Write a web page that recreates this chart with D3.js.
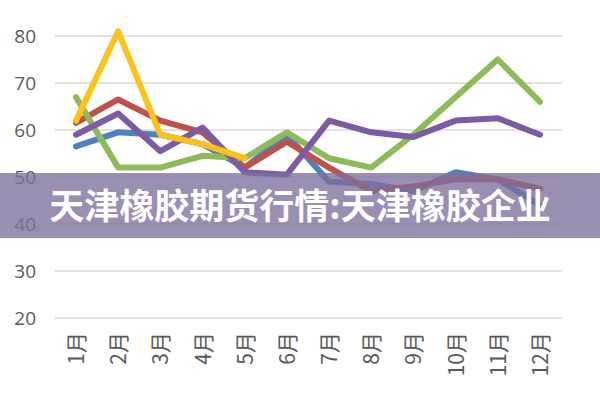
<!DOCTYPE html>
<html><head><meta charset="utf-8">
<script src="https://cdn.jsdelivr.net/npm/d3@7"></script>
<style>body{margin:0;background:#fff}svg{display:block}</style>
</head><body>
<svg id="c" width="600" height="400"></svg>
<script>
const months = ['1月','2月','3月','4月','5月','6月','7月','8月','9月','10月','11月','12月']
const yTicks = [20, 30, 40, 50, 60, 70, 80]
const blue = [56.5, 59.5, 59, 57, 52, 59, 49, 48.5, 47, 51, 49.5, 44]
const red = [61.5, 66.5, 62, 59.5, 52, 57.5, 52, 47, 48, 49.5, 49.5, 47.5]
const green = [67, 52, 52, 54.5, 54, 59.5, 54, 52, 59, 67, 75, 66]
const purple = [59, 63.5, 55.5, 60.5, 51, 50.5, 62, 59.5, 58.5, 62, 62.5, 59]
const yellow = [62, 81, 59, 57, 54]
const title = '天津橡胶期货行情:天津橡胶企业'

const svg = d3.select('#c')
const x = d3.scalePoint().domain(months).range([76, 540])
const y = d3.scaleLinear().domain([20, 80]).range([318, 36])

// grid
svg.append('g').selectAll('line').data(yTicks).join('line')
  .attr('x1', 55).attr('x2', 562)
  .attr('y1', d => y(d)).attr('y2', d => y(d))
  .attr('stroke', '#d9d9d9').attr('stroke-width', 1.5)

svg.append('g').selectAll('text').data(yTicks).join('text')
  .attr('x', 36).attr('y', d => y(d) + 7)
  .attr('text-anchor', 'end')
  .attr('font-family', 'Open Sans, sans-serif').attr('font-size', 19)
  .attr('fill', '#595959').text(d => d)

svg.append('g').selectAll('text').data(months).join('text')
  .attr('transform', d => `translate(${x(d) + 8},332) rotate(-90)`)
  .attr('text-anchor', 'end')
  .attr('font-family', 'Noto Sans CJK SC, sans-serif').attr('font-size', 21)
  .attr('fill', '#595959').text(d => d)

const series = [
  [blue, '#4f81bd'], [red, '#c0504d'], [green, '#8fba5a'], [purple, '#7b5ca3'], [yellow, '#fbc318']
]
const line = d3.line().x((d, i) => x(months[i])).y(d => y(d))
svg.append('g').selectAll('path').data(series).join('path')
  .attr('d', d => line(d[0]))
  .attr('fill', 'none').attr('stroke', d => d[1])
  .attr('stroke-width', 6).attr('stroke-linejoin', 'round').attr('stroke-linecap', 'round')

// banner
svg.append('rect').attr('x', 0).attr('y', 173).attr('width', 600).attr('height', 65)
  .attr('fill', '#7d6e9c').attr('opacity', 0.78)
svg.append('text').attr('x', 300).attr('y', 219).attr('text-anchor', 'middle')
  .attr('font-family', 'Noto Sans CJK SC, sans-serif').attr('font-weight', 'bold')
  .attr('font-size', 35).attr('fill', '#fff').text(title)
</script>
</body></html>
